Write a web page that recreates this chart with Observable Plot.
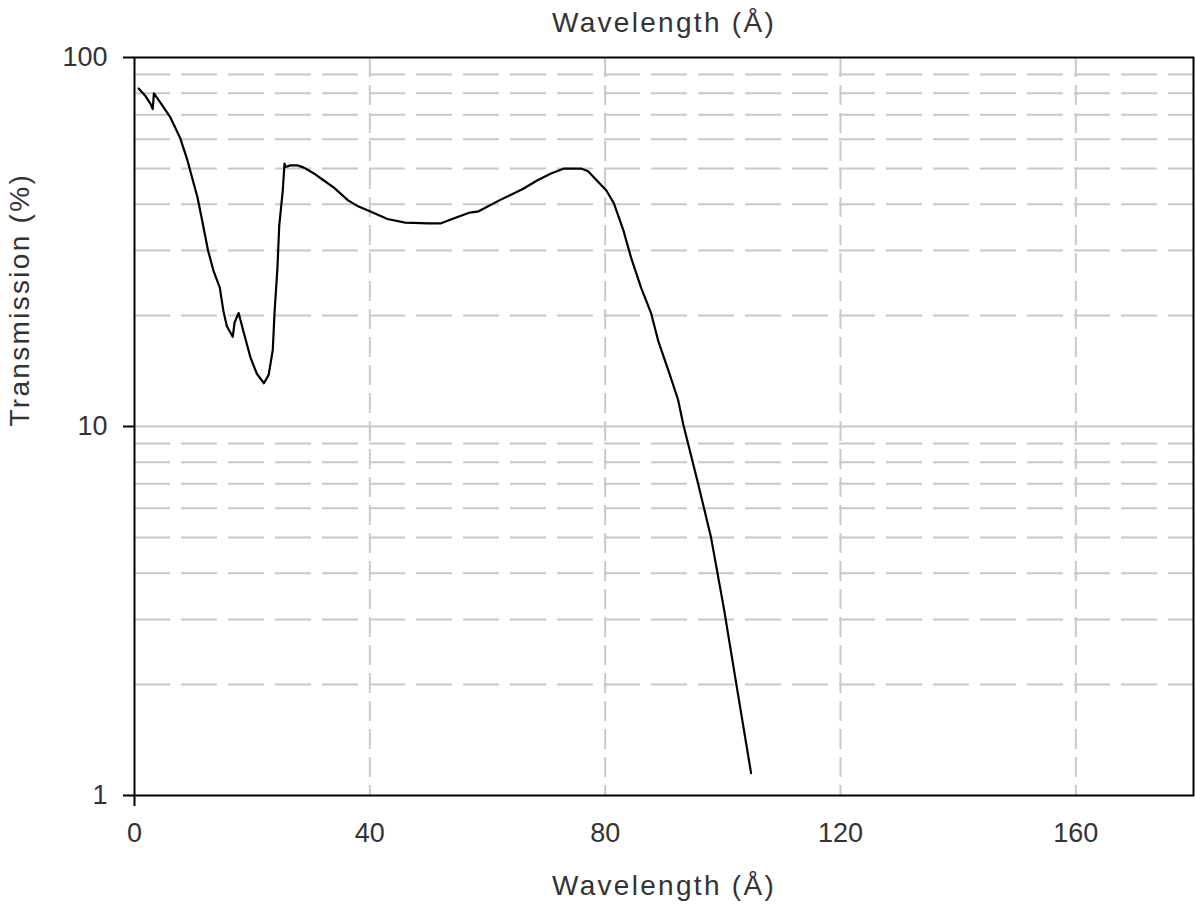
<!DOCTYPE html>
<html>
<head>
<meta charset="utf-8">
<script src="https://cdn.jsdelivr.net/npm/d3@7"></script>
<script src="https://cdn.jsdelivr.net/npm/@observablehq/plot@0.6"></script>
<style>
  html, body { margin: 0; padding: 0; background: #fff; }
</style>
</head>
<body>
<div id="chart"></div>
<script>
// Wavelength (Å)
const wavelength = [0.7, 1.9, 2.7, 3.1, 3.3, 4.4, 6.1, 7.8, 9.0, 10.7, 11.6, 12.5, 13.4, 14.5, 15.1, 15.7, 16.7, 17.0, 17.7, 18.6, 19.7, 20.8, 22.0, 22.8, 23.5, 23.8, 24.3, 24.6, 25.2, 25.5, 25.7, 26.5, 27.7, 28.8, 30.5, 31.7, 33.9, 36.3, 38.0, 40.0, 43.0, 46.0, 50.0, 52.0, 54.0, 57.0, 58.5, 62.0, 66.0, 68.5, 70.8, 73.0, 75.9, 77.1, 80.2, 81.5, 83.1, 84.4, 86.1, 87.8, 89.0, 91.0, 92.4, 93.3, 95.8, 98.0, 100.2, 102.3, 104.8];
// Transmission (%)
const transmission = [82.4, 78.5, 75, 72.5, 80, 75.5, 68.8, 60.3, 52.6, 41.8, 35.5, 30.0, 26.5, 23.8, 20.6, 18.7, 17.5, 19.1, 20.3, 17.9, 15.4, 13.9, 13.1, 13.8, 16.1, 20.3, 27.0, 35, 43.6, 51.6, 50.5, 51.0, 51.0, 50.3, 48.5, 47.0, 44.4, 41.0, 39.5, 38.3, 36.5, 35.7, 35.5, 35.5, 36.5, 38.0, 38.3, 41.0, 44.0, 46.5, 48.5, 50.0, 50.0, 49.2, 43.6, 40.2, 34.0, 28.7, 23.8, 20.3, 17.1, 13.8, 11.8, 10.1, 7.0, 5.0, 3.2, 2.0, 1.15];

const xTicks = [0, 40, 80, 120, 160];
const xGrid = [40, 80, 120, 160];
const yTicks = [1, 10, 100];
const yGridMajor = [10];
const yGridMinor = [2, 3, 4, 5, 6, 7, 8, 9, 20, 30, 40, 50, 60, 70, 80, 90];

const xTitle = "Wavelength (Å)";
const yTitle = "Transmission (%)";

const data = wavelength.map((w, i) => ({w, t: transmission[i]}));

const gridColor = "#c8c8c8";
const textColor = "#333";

const chart = Plot.plot({
  width: 1195,
  height: 910,
  marginLeft: 134,
  marginRight: 2,
  marginTop: 57,
  marginBottom: 115,
  style: {fontFamily: "'Liberation Sans', Arial, sans-serif", fontSize: "27px", color: "#000", background: "#fff"},
  x: {domain: [0, 180]},
  y: {type: "log", domain: [1, 100]},
  marks: [
    Plot.ruleY(yGridMinor, {stroke: gridColor, strokeWidth: 2, strokeDasharray: "36,11"}),
    Plot.ruleY(yGridMajor, {stroke: gridColor, strokeWidth: 2}),
    Plot.ruleX(xGrid, {stroke: gridColor, strokeWidth: 2, strokeDasharray: "20,8"}),
    Plot.line(data, {x: "w", y: "t", stroke: "#000", strokeWidth: 2.2}),
    Plot.frame({stroke: "#000", strokeWidth: 2}),
    Plot.axisY({ticks: yTicks, tickFormat: d => String(d), tickSize: 11, tickPadding: 16, label: null, fill: textColor, strokeWidth: 2}),
    Plot.axisX({ticks: xTicks, tickFormat: d => String(d), tickSize: 0, tickPadding: 27, label: null, fill: textColor}),
    Plot.axisX({ticks: [0], tickSize: 11, tickFormat: () => "", label: null, strokeWidth: 2}),
    Plot.text([xTitle], {frameAnchor: "top", dy: -45, fill: textColor, fontSize: 28}),
    Plot.text([xTitle], {frameAnchor: "bottom", dy: 99, fill: textColor, fontSize: 28}),
    Plot.text([yTitle], {frameAnchor: "left", dx: -114, rotate: -90, fill: textColor, fontSize: 28})
  ]
});

d3.select(chart).selectAll("text")
  .filter(function() { const t = this.textContent; return t === xTitle || t === yTitle; })
  .attr("letter-spacing", "2.3px");

document.getElementById("chart").appendChild(chart);
</script>
</body>
</html>
